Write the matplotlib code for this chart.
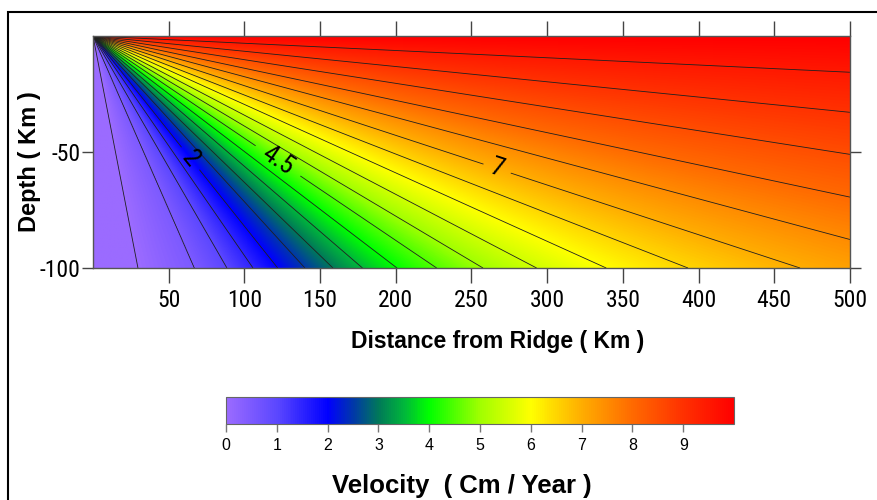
import numpy as np
import matplotlib.pyplot as plt
from matplotlib.colors import LinearSegmentedColormap, Normalize
from matplotlib.patches import Rectangle
from matplotlib import font_manager

plt.rcParams['axes.unicode_minus'] = False

# contour levels (cm/yr) and where each one meets the 100 km depth line (km from ridge)
levels = [0, 0.5, 1, 1.5, 2, 2.5, 3, 3.5, 4, 4.5, 5, 5.5, 6, 6.5, 7, 7.5, 8, 8.5, 9, 9.5]
x_at_100km = [29.7, 67, 88.5, 105.7, 122, 140, 158.5, 178, 200.8, 227, 257.6, 293,
              339, 393, 467, 570, 720, 980, 1520, 3200]
surface_velocity = 10.0
steep_velocity = -0.45  # straight below the ridge

labelled = [2, 4.5, 7]
label_pos = [(64, -53), (122, -54), (267, -57)]

cbar_ticks = [0, 1, 2, 3, 4, 5, 6, 7, 8, 9]
x_ticks = [50, 100, 150, 200, 250, 300, 350, 400, 450, 500]
y_ticks = [-50, -100]

# colour scale
cmap_vals = [0, 1, 2, 2.5, 3, 3.5, 4, 5, 6, 7, 8, 9, 10]
cmap_cols = ['#9b6bff', '#5a46ff', '#0000ff', '#0038a8', '#007a58', '#00b83a', '#00ff00',
             '#a0ff00', '#ffff00', '#ffae00', '#ff6a00', '#ff3200', '#ff0000']

cmap = LinearSegmentedColormap.from_list(
    'vel', [(v / 10.0, c) for v, c in zip(cmap_vals, cmap_cols)])
cmap.set_under(cmap_cols[0])

# velocity only depends on the angle below the surface (corner flow)
ang = np.degrees(np.arctan2(100.0, np.array(x_at_100km)))
ang_pts = np.concatenate([[0.0], ang[::-1], [90.0]])
vel_pts = np.concatenate([[surface_velocity], np.array(levels)[::-1], [steep_velocity]])

xs = np.linspace(0, 500, 801)
ds = np.linspace(0, 100, 401)
X, D = np.meshgrid(xs, ds)
theta = np.degrees(np.arctan2(D, X))
V = np.interp(theta, ang_pts, vel_pts)

# a narrow face for the tick numbers if one is around
narrow_names = ['Liberation Sans Narrow', 'DejaVu Sans Condensed', 'Roboto Condensed']
have = {f.name for f in font_manager.fontManager.ttflist}
narrow = [n for n in narrow_names if n in have] + ['Liberation Sans', 'DejaVu Sans']
bold = ['Liberation Sans', 'DejaVu Sans']

fig = plt.figure(figsize=(8.78, 5.0), dpi=100)
ax = fig.add_axes([93 / 878, 1 - 268 / 500, 757 / 878, 232 / 500])

norm = Normalize(vmin=0, vmax=10)
im = ax.imshow(V, extent=[0, 500, -100, 0], origin='upper', aspect='auto',
               cmap=cmap, norm=norm, interpolation='bilinear')
plain = [lv for lv in levels if lv not in labelled]
ax.contour(X, -D, V, levels=plain, colors='#202020', linewidths=0.6)
cs = ax.contour(X, -D, V, levels=labelled, colors='#202020', linewidths=0.6)
lab = ax.clabel(cs, manual=label_pos, fmt='%g', fontsize=19, inline=True,
                inline_spacing=6, colors='black')
for t in lab:
    t.set_family(narrow)
    t.set_stretch('condensed')

ax.set_xlim(0, 500)
ax.set_ylim(-100, 0)
ax.set_xticks(x_ticks)
ax.set_yticks(y_ticks)
ax.tick_params(axis='x', direction='out', length=11, width=1, color='#444444',
               top=True, labeltop=False, labelsize=17, pad=4)
ax.tick_params(axis='y', direction='out', length=8, width=1, color='#444444',
               right=True, labelsize=17, pad=1)
for lbl in ax.get_xticklabels() + ax.get_yticklabels():
    lbl.set_family(narrow)
    lbl.set_stretch('condensed')
for s in ax.spines.values():
    s.set_color('#555555')
    s.set_linewidth(1)

ax.set_xlabel('Distance from Ridge ( Km )', fontsize=16.5, fontweight='bold', family=bold)
ax.xaxis.set_label_coords(0.534, -0.267)
ax.set_ylabel('Depth ( Km )', fontsize=17, fontweight='bold', family=bold)
ax.yaxis.set_label_coords(-0.069, 0.46)

cax = fig.add_axes([226 / 878, 1 - 424 / 500, 508 / 878, 27 / 500])
cb = fig.colorbar(im, cax=cax, orientation='horizontal', ticks=cbar_ticks)
cb.outline.set_edgecolor('#666666')
cb.ax.tick_params(length=6, width=1, color='#777777', labelsize=11.5, pad=4)
for lbl in cb.ax.get_xticklabels():
    lbl.set_family(bold)
cb.ax.set_xlim(0, 10)
cb.set_label('Velocity  ( Cm / Year )', fontsize=18.5, fontweight='bold', family=bold)
cb.ax.xaxis.set_label_coords(0.4636, -1.85)

# outer frame of the figure (runs off the right and bottom edges)
fig.patches.append(Rectangle((8 / 878, -0.1), 1.2, 0.976 + 0.1, transform=fig.transFigure,
                             fill=False, edgecolor='black', linewidth=1.5))

fig.savefig('out.png', dpi=100)
